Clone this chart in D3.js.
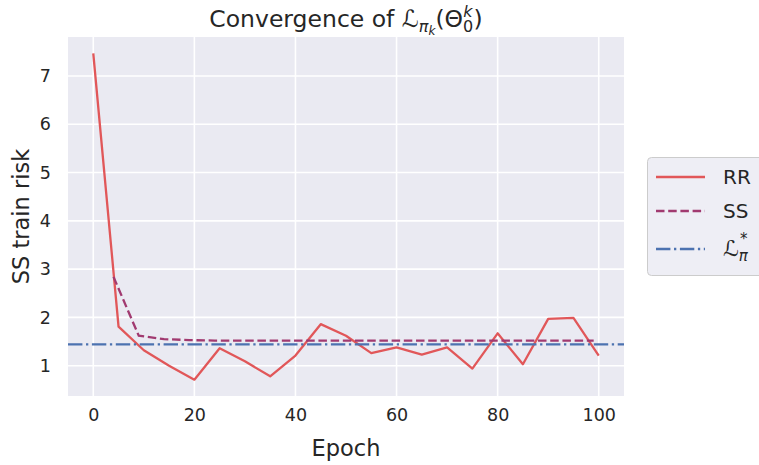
<!DOCTYPE html>
<html>
<head>
<meta charset="utf-8">
<script src="https://cdn.jsdelivr.net/npm/d3@7/dist/d3.min.js"></script>
<style>
  body { margin: 0; background: #fff; }
  svg { font-family: 'DejaVu Sans', sans-serif; }
</style>
</head>
<body>
<div id="chart"></div>
<script>
// data
const rrEpochs = [0, 5, 10, 15, 20, 25, 30, 35, 40, 45, 50, 55, 60, 65, 70, 75, 80, 85, 90, 95, 100];
const rrValues = [7.47, 1.81, 1.32, 1.0, 0.71, 1.36, 1.09, 0.78, 1.21, 1.86, 1.62, 1.26, 1.38, 1.23, 1.38, 0.94, 1.67, 1.03, 1.97, 1.99, 1.21];
const ssEpochs = [4, 9, 14, 19, 24, 29, 34, 39, 44, 49, 54, 59, 64, 69, 74, 79, 84, 89, 94, 99];
const ssValues = [2.84, 1.62, 1.55, 1.53, 1.52, 1.52, 1.52, 1.52, 1.52, 1.52, 1.52, 1.52, 1.52, 1.52, 1.52, 1.52, 1.52, 1.52, 1.52, 1.52];
const optValue = 1.44;
const xTicks = [0, 20, 40, 60, 80, 100];
const yTicks = [1, 2, 3, 4, 5, 6, 7];
const legendLabels = ['RR', 'SS', 'L'];

const w = 759, h = 465;
const margin = { top: 37, right: 135, bottom: 69, left: 68 };
const width = 624 - margin.left;
const height = 396 - margin.top;

const colors = { rr: '#e15759', ss: '#a13a70', opt: '#4c72b0' };

const svg = d3.select('#chart').append('svg')
  .attr('width', w)
  .attr('height', h);

const g = svg.append('g')
  .attr('transform', `translate(${margin.left},${margin.top})`);

// matplotlib style 5% margins
const x = d3.scaleLinear().domain([-5, 105]).range([0, width]);
const yMin = d3.min(rrValues), yMax = d3.max(rrValues);
const pad = (yMax - yMin) * 0.05;
const y = d3.scaleLinear().domain([yMin - pad, yMax + pad]).range([height, 0]);

g.append('rect')
  .attr('width', width)
  .attr('height', height)
  .attr('fill', '#eaeaf2');

// grid
g.append('g')
  .selectAll('line')
  .data(xTicks)
  .enter().append('line')
  .attr('x1', d => x(d)).attr('x2', d => x(d))
  .attr('y1', 0).attr('y2', height)
  .attr('stroke', '#fff').attr('stroke-width', 1.6);

g.append('g')
  .selectAll('line')
  .data(yTicks)
  .enter().append('line')
  .attr('x1', 0).attr('x2', width)
  .attr('y1', d => y(d)).attr('y2', d => y(d))
  .attr('stroke', '#fff').attr('stroke-width', 1.6);

// axes (labels only, no tick marks)
const xAxis = d3.axisBottom(x).tickValues(xTicks).tickSize(0).tickPadding(13);
g.append('g')
  .attr('transform', `translate(0,${height})`)
  .call(xAxis)
  .call(a => a.select('.domain').remove())
  .selectAll('text')
  .attr('fill', '#262626')
  .style('font-size', '17.5px')
  .style('font-family', 'DejaVu Sans');

const yAxis = d3.axisLeft(y).tickValues(yTicks).tickSize(0).tickPadding(17);
g.append('g')
  .call(yAxis)
  .call(a => a.select('.domain').remove())
  .selectAll('text')
  .attr('fill', '#262626')
  .style('font-size', '17.5px')
  .style('font-family', 'DejaVu Sans');

// lines
const line = d3.line().x(d => x(d[0])).y(d => y(d[1]));
g.append('clipPath').attr('id', 'clip')
  .append('rect').attr('width', width).attr('height', height);

const plot = g.append('g').attr('clip-path', 'url(#clip)');

plot.append('path')
  .datum(rrEpochs.map((e, i) => [e, rrValues[i]]))
  .attr('d', line)
  .attr('fill', 'none')
  .attr('stroke', colors.rr)
  .attr('stroke-width', 2.3)
  .attr('stroke-linejoin', 'round');

plot.append('path')
  .datum(ssEpochs.map((e, i) => [e, ssValues[i]]))
  .attr('d', line)
  .attr('fill', 'none')
  .attr('stroke', colors.ss)
  .attr('stroke-width', 2.3)
  .attr('stroke-dasharray', '8.5,3.7');

plot.append('line')
  .attr('x1', 0).attr('x2', width)
  .attr('y1', y(optValue)).attr('y2', y(optValue))
  .attr('stroke', colors.opt)
  .attr('stroke-width', 2.3)
  .attr('stroke-dasharray', '14.4,3.6,2.3,3.6');

// title
const title = svg.append('text')
  .attr('x', margin.left + width / 2)
  .attr('y', 27)
  .attr('text-anchor', 'middle')
  .attr('fill', '#262626')
  .style('font-size', '23.5px');
title.append('tspan').text('Convergence of ');
title.append('tspan').style('font-style', 'italic').text('ℒ');
title.append('tspan').attr('dy', 5).style('font-size', '16px').style('font-style', 'italic').text('π');
title.append('tspan').attr('dy', 3).style('font-size', '12px').style('font-style', 'italic').text('k');
title.append('tspan').attr('dy', -8).text('(Θ');
title.append('tspan').attr('dy', 5).style('font-size', '16px').text('0');
title.append('tspan').attr('dx', -10).attr('dy', -15).style('font-size', '16px').style('font-style', 'italic').text('k');
title.append('tspan').attr('dy', 10).attr('dx', 1).text(')');

// axis labels
svg.append('text')
  .attr('x', margin.left + width / 2)
  .attr('y', 456)
  .attr('text-anchor', 'middle')
  .attr('fill', '#262626')
  .style('font-size', '22.5px')
  .text('Epoch');

svg.append('text')
  .attr('transform', `translate(29,${margin.top + height / 2}) rotate(-90)`)
  .attr('text-anchor', 'middle')
  .attr('fill', '#262626')
  .style('font-size', '22.5px')
  .text('SS train risk');

// legend
const lg = svg.append('g').attr('transform', 'translate(647,157)');
lg.append('rect')
  .attr('x', 0.5).attr('y', 0.5)
  .attr('width', 125).attr('height', 118)
  .attr('rx', 4)
  .attr('fill', '#eaeaf2').attr('fill-opacity', 0.8)
  .attr('stroke', '#cccccc').attr('stroke-width', 1);

const legendRows = [
  { label: legendLabels[0], color: colors.rr, dash: null, yy: 20 },
  { label: legendLabels[1], color: colors.ss, dash: '8.5,3.7', yy: 54 },
  { label: legendLabels[2], color: colors.opt, dash: '14.4,3.6,2.3,3.6', yy: 92 }
];
legendRows.forEach(r => {
  lg.append('line')
    .attr('x1', 9).attr('x2', 58)
    .attr('y1', r.yy).attr('y2', r.yy)
    .attr('stroke', r.color)
    .attr('stroke-width', 2.3)
    .attr('stroke-dasharray', r.dash);
  const t = lg.append('text')
    .attr('x', 76).attr('y', r.yy + 7)
    .attr('fill', '#262626')
    .style('font-size', '20px');
  if (r.label === 'L') {
    t.append('tspan').style('font-size', '22px').style('font-style', 'italic').text('ℒ');
    t.append('tspan').attr('dy', 5).style('font-size', '15px').style('font-style', 'italic').text('π');
    t.append('tspan').attr('dx', -8).attr('dy', -17).style('font-size', '15px').text('*');
  } else {
    t.text(r.label);
  }
});
</script>
</body>
</html>
